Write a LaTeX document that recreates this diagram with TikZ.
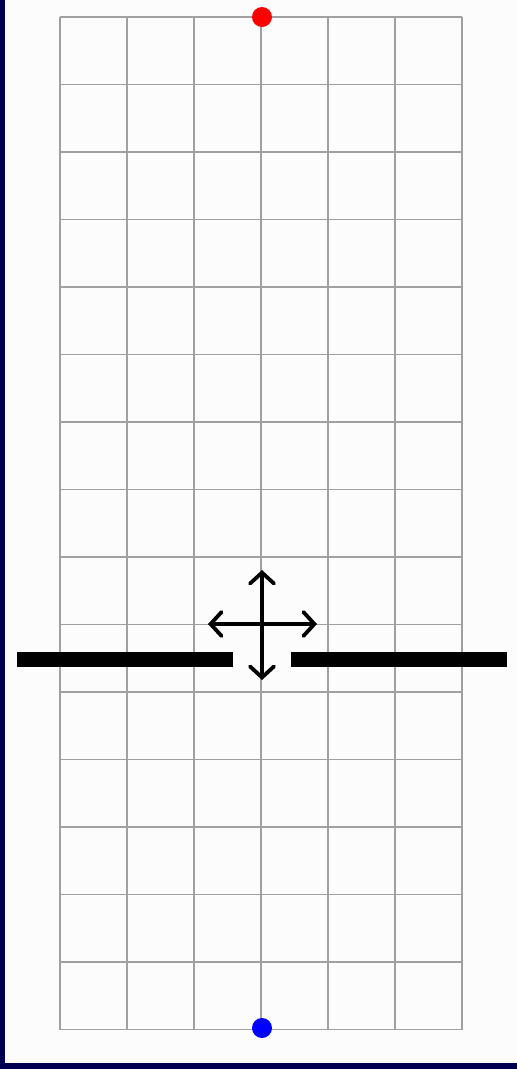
\documentclass[tikz,border=0pt]{standalone}
\usetikzlibrary{arrows.meta}

\definecolor{navy}{RGB}{0,0,80}
\definecolor{gridgray}{RGB}{160,160,160}
\tikzstyle{cell} = [draw=gridgray, line width=1.5pt]
\tikzstyle{dot} = [circle, minimum size=20pt, inner sep=0pt]
\tikzstyle{wall} = [fill=black, minimum width=216pt, minimum height=15pt, inner sep=0pt]
\tikzstyle{move} = [line width=3.8pt, line cap=round, {Straight Barb[length=11pt,width=24pt,line cap=round]}-{Straight Barb[length=11pt,width=24pt,line cap=round]}]

\begin{document}
\begin{tikzpicture}[x=1pt,y=-1pt]
\useasboundingbox (0,0) rectangle (517,1069);
%frame
\fill[navy] (0,0) rectangle (517,1069);
\fill[white!99!black] (5,0) rectangle (517,1063);
%begin grid
\foreach \i in {0,...,6}
    \draw[cell] (60+67*\i,17) -- (60+67*\i,1029.5);
\foreach \j in {0,...,15}
    \draw[cell] (60,17+67.5*\j) -- (462,17+67.5*\j);
%end grid
%begin dots
\node[dot, fill=red] (start) at (262,17) {};
\node[dot, fill=blue] (goal) at (262,1028) {};
%end dots
%begin walls
\node[wall] (leftwall) at (125,659.5) {};
\node[wall] (rightwall) at (399,659.5) {};
%end walls
%begin cross
\coordinate (up) at (262,570);
\coordinate (down) at (262,680);
\coordinate (left) at (208,624);
\coordinate (right) at (317,624);
\draw[move] (down) -- (up);
\draw[move] (left) -- (right);
%end cross
\end{tikzpicture}
\end{document}
